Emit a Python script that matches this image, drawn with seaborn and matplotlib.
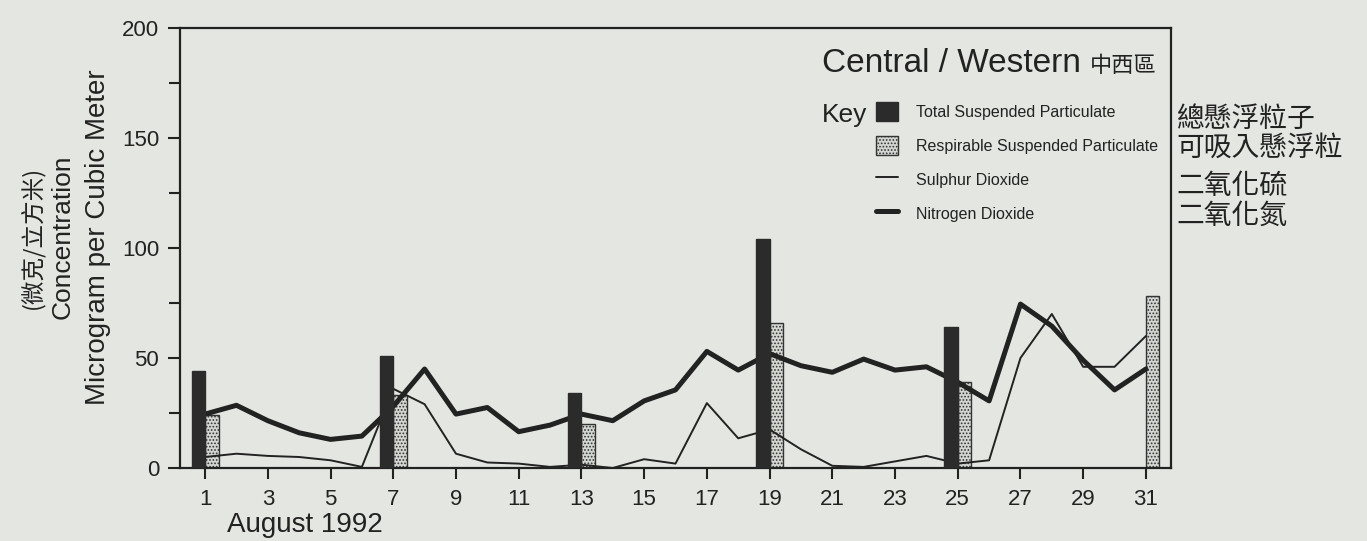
import numpy as np
import pandas as pd
import matplotlib
matplotlib.use('Agg')
import matplotlib.pyplot as plt
import seaborn as sns
from matplotlib.patches import Patch
from matplotlib.lines import Line2D

# daily readings, August 1992, Central / Western
days = list(range(1, 32))
no2 = [24.5, 28.5, 21.5, 16, 13, 14.5, 28, 45, 24.5, 27.5, 16.5, 19.5,
       24.5, 21.5, 30.5, 35.5, 53, 44.5, 52, 46.5, 43.5, 49.5, 44.5, 46,
       39, 30.5, 74.5, 64.5, 49, 35.5, 45]
so2 = [5, 6.5, 5.5, 5, 3.5, 0.5, 36, 29, 6.5, 2.5, 2, 0.5,
       1.5, 0, 4, 2, 29.5, 13.5, 17.5, 8.5, 1, 0.5, 3, 5.5,
       2, 3.5, 50, 70, 46, 46, 60]

# particulates, sampled every sixth day
bar_days = [1, 7, 13, 19, 25, 31]
tsp = [44, 51, 34, 104, 64, np.nan]
rsp = [24, 33, 20, 66, 39, 78]

x_ticks = list(range(1, 32, 2))
y_ticks = [0, 50, 100, 150, 200]

bg = '#e4e7e1'
ink = '#222222'

sns.set_style('ticks')
plt.rcParams['font.family'] = ['Liberation Sans', 'Noto Sans CJK TC', 'DejaVu Sans']
plt.rcParams['hatch.linewidth'] = 0.8

bars = pd.DataFrame({
    'day': bar_days * 2,
    'value': tsp + rsp,
    'pollutant': ['TSP'] * len(bar_days) + ['RSP'] * len(bar_days),
})

W, H = 1367, 541
fig = plt.figure(figsize=(W / 100, H / 100), dpi=100, facecolor=bg)
ax = fig.add_axes([180 / W, 1 - 468 / H, (1171 - 180) / W, 440 / H])
ax.set_facecolor(bg)

sns.barplot(data=bars, x='day', y='value', hue='pollutant', native_scale=True,
            width=0.143, palette={'TSP': '#2b2b2b', 'RSP': '#d4d6d2'},
            saturation=1, errorbar=None, legend=False, ax=ax)
for p in ax.containers[0]:
    p.set_zorder(3)
    p.set_edgecolor('#2b2b2b')
for p in ax.containers[1]:
    p.set_zorder(1)
    p.set_hatch('.....')
    p.set_edgecolor('#333333')
    p.set_linewidth(1.0)

sns.lineplot(x=days, y=so2, color=ink, linewidth=1.4, ax=ax, zorder=2)
sns.lineplot(x=days, y=no2, color=ink, linewidth=3.6, ax=ax, zorder=2)

ax.set_xlim(0.2, 31.8)
ax.set_ylim(0, 200)
ax.set_xticks(x_ticks)
ax.set_yticks(y_ticks)
ax.set_yticks([25, 75, 125, 175], minor=True)
ax.tick_params(axis='both', which='both', direction='out', color=ink, width=1.5,
               labelsize=16, labelcolor=ink)
ax.tick_params(axis='y', which='major', length=9, pad=6)
ax.tick_params(axis='y', which='minor', length=8)
ax.tick_params(axis='x', length=8, pad=7)
ax.set_xlabel('')
ax.set_ylabel('')
for s in ax.spines.values():
    s.set_visible(True)
    s.set_color(ink)
    s.set_linewidth(1.6)

# axis titles
fig.text(305 / W, 1 - 525 / H, 'August 1992', fontsize=20, color=ink, ha='center', va='center')
fig.text(98 / W, 1 - 237 / H, 'Microgram per Cubic Meter', fontsize=20, color=ink,
         rotation=90, ha='center', va='center')
fig.text(63 / W, 1 - 237 / H, 'Concentration', fontsize=19, color=ink,
         rotation=90, ha='center', va='center')
fig.text(32 / W, 1 - 237 / H, '(微克/立方米)', fontsize=17, color=ink,
         rotation=90, ha='center', va='center', family=['Noto Sans CJK TC'])

# station name and key
fig.text(822 / W, 1 - 64 / H, 'Central / Western', fontsize=24, color=ink, ha='left', va='center')
fig.text(1090 / W, 1 - 66 / H, '中西區', fontsize=16, color=ink, ha='left', va='center',
         family=['Noto Sans CJK TC'])
fig.text(822 / W, 1 - 115 / H, 'Key', fontsize=19, color=ink, ha='left', va='center')

handles = [
    Patch(facecolor='#2b2b2b', edgecolor='#2b2b2b'),
    Patch(facecolor='#d4d6d2', edgecolor='#333333', hatch='.....', linewidth=1.0),
    Line2D([], [], color=ink, linewidth=1.4),
    Line2D([], [], color=ink, linewidth=3.6),
]
labels = ['Total Suspended Particulate', 'Respirable Suspended Particulate',
          'Sulphur Dioxide', 'Nitrogen Dioxide']
ax.legend(handles, labels, loc='upper left', bbox_to_anchor=(876 / W, 1 - 102 / H),
          bbox_transform=fig.transFigure, frameon=False, fontsize=11.5,
          handlelength=1.4, handleheight=1.5, handletextpad=1.1,
          labelspacing=0.9, borderpad=0, borderaxespad=0, labelcolor=ink)

# Chinese names beside the frame
for txt, yy in zip(['總懸浮粒子', '可吸入懸浮粒', '二氧化硫', '二氧化氮'], [119, 148, 186, 216]):
    fig.text(1176 / W, 1 - yy / H, txt, fontsize=20, color=ink, ha='left', va='center',
             family=['Noto Sans CJK TC'])

fig.savefig('out.png', dpi=100, facecolor=bg)
